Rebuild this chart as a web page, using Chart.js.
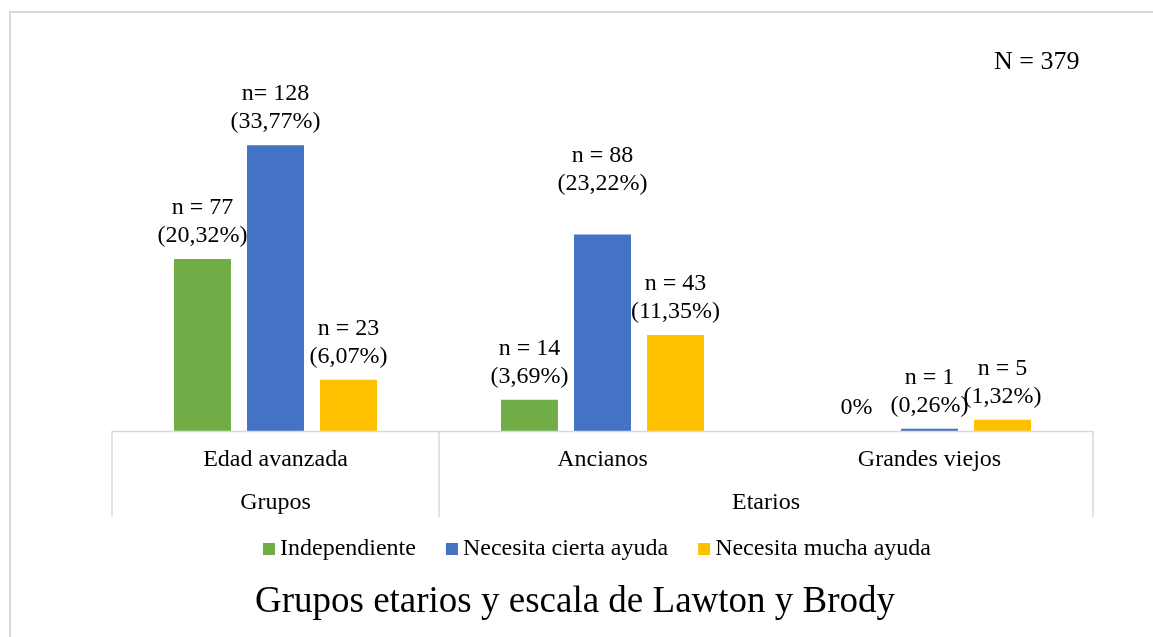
<!DOCTYPE html>
<html><head><meta charset="utf-8">
<script src="https://cdn.jsdelivr.net/npm/chart.js@4.4.0/dist/chart.umd.min.js"></script>
<style>html,body{margin:0;padding:0;background:#fff;overflow:hidden}#wrap{width:1153px;height:637px;position:relative}canvas{display:block}</style>
</head><body><div id="wrap"><canvas id="c" width="1153" height="637"></canvas></div>
<script>
// ---- data ----
const categories = ['Edad avanzada', 'Ancianos', 'Grandes viejos'];
const groupLabels = ['Grupos', 'Etarios'];
const groupSpans = [[0, 0], [1, 2]];
const seriesNames = ['Independiente', 'Necesita cierta ayuda', 'Necesita mucha ayuda'];
const independiente = [77, 14, 0];
const ciertaAyuda = [128, 88, 1];
const muchaAyuda = [23, 43, 5];
const totalN = 379;
const titleText = 'Grupos etarios y escala de Lawton y Brody';
const annotationText = 'N = ' + totalN;

// ---- style ----
const colors = ['#70AD47', '#4472C4', '#FFC000'];
const FONT = '"Liberation Serif","Times New Roman",serif';
const TXT = '#000000';
const GRID = '#d9d9d9';

function pctText(n) {
  return '(' + (n / totalN * 100).toFixed(2).replace('.', ',') + '%)';
}
function countText(n, ds, idx) {
  // original label for the tallest bar was typed without a space
  return (ds === 1 && idx === 0) ? 'n= ' + n : 'n = ' + n;
}
const labelLift = { '1-1': 28 };

const overlay = {
  id: 'overlay',
  beforeDraw(chart) {
    const ctx = chart.ctx;
    ctx.save();
    ctx.fillStyle = '#fff';
    ctx.fillRect(0, 0, chart.width, chart.height);
    ctx.strokeStyle = GRID;
    ctx.lineWidth = 2;
    ctx.beginPath();
    ctx.moveTo(10, chart.height);
    ctx.lineTo(10, 12);
    ctx.lineTo(chart.width, 12);
    ctx.stroke();
    ctx.restore();
  },
  afterDatasetsDraw(chart) {
    const ctx = chart.ctx;
    const area = chart.chartArea;
    const xs = chart.scales.x;
    ctx.save();
    // axis frame
    ctx.strokeStyle = GRID;
    ctx.lineWidth = 1.5;
    const bottom = area.bottom;
    const lowEnd = bottom + 86;
    ctx.beginPath();
    ctx.moveTo(area.left, bottom + 0.5);
    ctx.lineTo(area.right, bottom + 0.5);
    const boundaries = [area.left, area.right];
    groupSpans.forEach(s => {
      if (s[0] > 0) {
        boundaries.push((xs.getPixelForValue(s[0] - 1) + xs.getPixelForValue(s[0])) / 2);
      }
    });
    boundaries.forEach(b => { ctx.moveTo(b, bottom); ctx.lineTo(b, lowEnd); });
    ctx.stroke();

    ctx.fillStyle = TXT;
    ctx.textAlign = 'center';
    ctx.textBaseline = 'middle';
    // category labels
    ctx.font = '24px ' + FONT;
    categories.forEach((c, i) => ctx.fillText(c, xs.getPixelForValue(i), bottom + 29));
    groupLabels.forEach((g, i) => {
      const s = groupSpans[i];
      const cx = (xs.getPixelForValue(s[0]) + xs.getPixelForValue(s[1])) / 2;
      ctx.fillText(g, cx, bottom + 72);
    });

    // data labels
    ctx.font = '24px ' + FONT;
    chart.data.datasets.forEach((ds, di) => {
      const meta = chart.getDatasetMeta(di);
      meta.data.forEach((el, j) => {
        const v = ds.data[j];
        const top = el.y;
        const lift = labelLift[di + '-' + j] || 0;
        if (v === 0) {
          ctx.fillText('0%', el.x, top - 23);
        } else {
          ctx.fillText(pctText(v), el.x, top - 23 - lift);
          ctx.fillText(countText(v, di, j), el.x, top - 51 - lift);
        }
      });
    });

    // annotation
    ctx.textAlign = 'left';
    ctx.font = '26px ' + FONT;
    ctx.fillText(annotationText, 994, 62);

    // legend
    ctx.font = '24px ' + FONT;
    const box = 12, gapBox = 5, gapItem = 30;
    const widths = chart.data.datasets.map(d => ctx.measureText(d.label).width);
    const total = widths.reduce((a, w) => a + box + gapBox + w, 0) + gapItem * (widths.length - 1);
    let lx = 597 - total / 2;
    const ly = 549;
    chart.data.datasets.forEach((d, i) => {
      ctx.fillStyle = d.backgroundColor;
      ctx.fillRect(lx, ly - box / 2, box, box);
      ctx.fillStyle = TXT;
      ctx.fillText(d.label, lx + box + gapBox, ly);
      lx += box + gapBox + widths[i] + gapItem;
    });

    // title
    ctx.textAlign = 'center';
    ctx.font = '37px ' + FONT;
    ctx.fillText(titleText, 575, 602);
    ctx.restore();
  }
};

const seriesValues = [independiente, ciertaAyuda, muchaAyuda];
new Chart(document.getElementById('c'), {
  type: 'bar',
  data: {
    labels: categories,
    datasets: seriesNames.map((name, i) => ({
      label: name,
      data: seriesValues[i],
      backgroundColor: colors[i],
      borderWidth: 0,
      categoryPercentage: 0.67,
      barPercentage: 0.78
    }))
  },
  options: {
    responsive: false,
    animation: false,
    devicePixelRatio: 1,
    layout: { padding: { left: 112, right: 60, top: 96, bottom: 206 } },
    scales: {
      x: { display: false },
      y: { display: false, min: 0, max: 150 }
    },
    plugins: { legend: { display: false }, title: { display: false }, tooltip: { enabled: false } }
  },
  plugins: [overlay]
});
</script>
</body></html>
